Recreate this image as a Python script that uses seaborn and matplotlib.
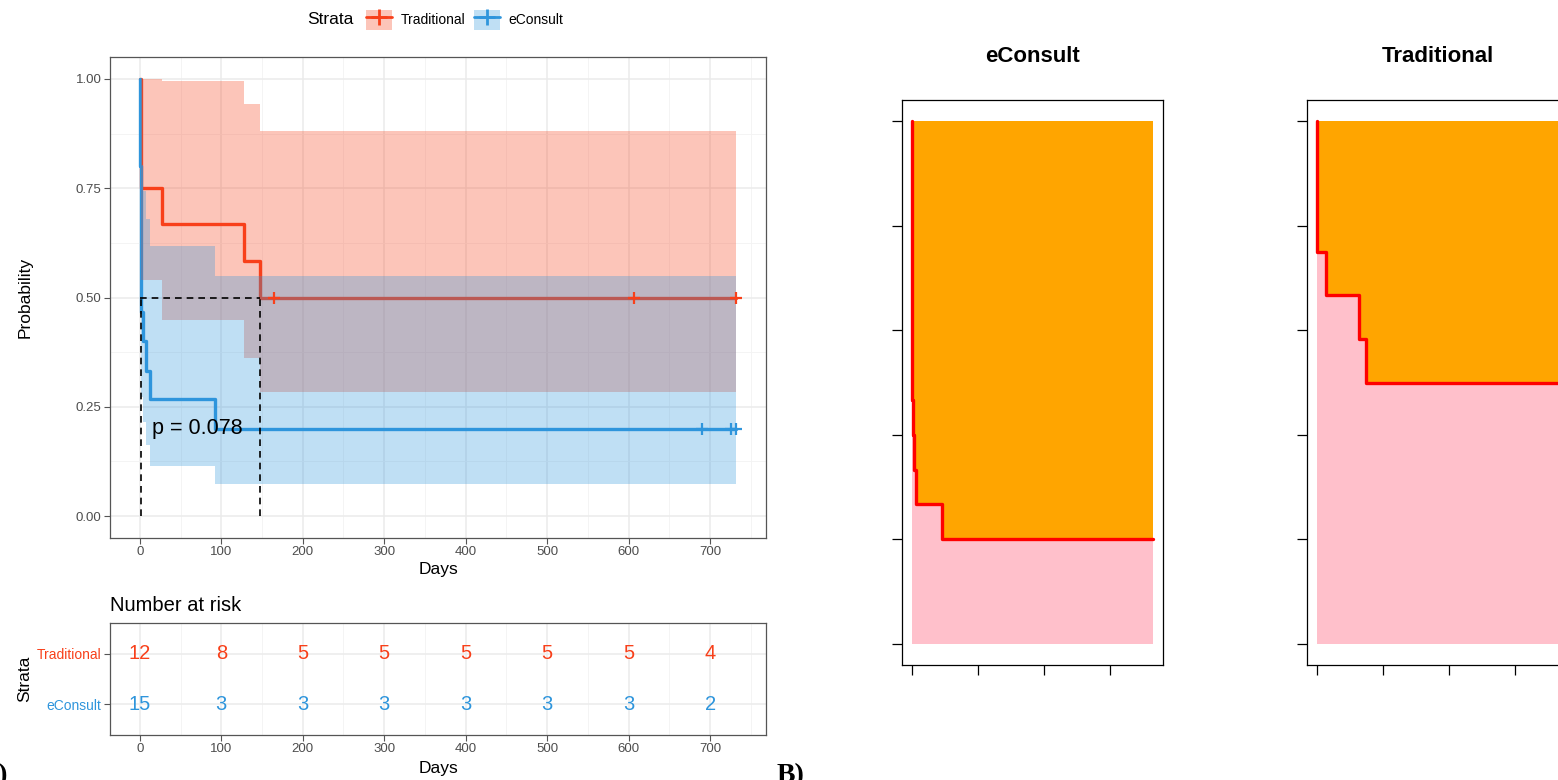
import numpy as np
import pandas as pd
import matplotlib
matplotlib.use("Agg")
import matplotlib.pyplot as plt
from matplotlib.patches import Patch
from matplotlib.lines import Line2D
from matplotlib.legend_handler import HandlerTuple
from matplotlib.ticker import MultipleLocator, FormatStrFormatter, NullFormatter
import seaborn as sns

# ---- Kaplan-Meier estimates (days, survival probability, 95% CI) ----
trad_time = [0, 1, 27, 128, 148, 732]
trad_surv = [1.0, 0.75, 0.667, 0.583, 0.5, 0.5]
trad_lower = [1.0, 0.54, 0.448, 0.362, 0.284, 0.284]
trad_upper = [1.0, 1.0, 0.995, 0.942, 0.88, 0.88]
trad_censor = [165, 606, 732]

econ_time = [0, 0.3, 1.5, 4, 7, 13, 92, 732]
econ_surv = [1.0, 0.8, 0.467, 0.4, 0.333, 0.267, 0.2, 0.2]
econ_lower = [1.0, 0.62, 0.272, 0.215, 0.163, 0.115, 0.073, 0.073]
econ_upper = [1.0, 1.0, 0.80, 0.744, 0.68, 0.617, 0.55, 0.55]
econ_censor = [690, 726, 732]

median_trad = 148
median_econ = 1.5
p_label = "p = 0.078"

# ---- number at risk ----
risk_days = [0, 100, 200, 300, 400, 500, 600, 700]
risk_trad = [12, 8, 5, 5, 5, 5, 5, 4]
risk_econ = [15, 3, 3, 3, 3, 3, 3, 2]

groups = ["Traditional", "eConsult"]

RED = "#F8401A"
BLUE = "#2E95DC"
FONT = ["Liberation Sans", "DejaVu Sans"]

sns.set_theme(style="white")
plt.rcParams["font.family"] = FONT
plt.rcParams["text.color"] = "black"
plt.rcParams["axes.labelcolor"] = "black"

W, H = 1558, 780
fig = plt.figure(figsize=(W / 100, H / 100), dpi=100)


def px_axes(x0, y0, x1, y1):
    """Axes from a pixel box measured from the top-left corner."""
    return fig.add_axes([x0 / W, 1 - y1 / H, (x1 - x0) / W, (y1 - y0) / H])


def surv_at(t, times, surv):
    i = np.searchsorted(times, t, side="right") - 1
    return surv[i]


def gg_panel(ax):
    ax.set_facecolor("white")
    for s in ax.spines.values():
        s.set_visible(True)
        s.set_color("#555555")
        s.set_linewidth(0.9)
    ax.tick_params(which="major", length=4, width=0.8, color="#555555",
                   labelcolor="#4D4D4D", labelsize=9.5, pad=2,
                   bottom=True, left=True)
    ax.tick_params(which="minor", length=0)
    ax.set_axisbelow(True)
    ax.grid(which="major", color="#EBEBEB", lw=1.1)
    ax.grid(which="minor", color="#F3F3F3", lw=0.6)


XLIM = (-36.6, 768.6)

# ================= survival curves =================
ax = px_axes(110, 57, 766, 538)
gg_panel(ax)

df_trad = pd.DataFrame({"Days": trad_time, "Probability": trad_surv})
df_econ = pd.DataFrame({"Days": econ_time, "Probability": econ_surv})
sns.lineplot(data=df_trad, x="Days", y="Probability", drawstyle="steps-post",
             estimator=None, color=RED, lw=2.4, ax=ax, zorder=2)
sns.lineplot(data=df_econ, x="Days", y="Probability", drawstyle="steps-post",
             estimator=None, color=BLUE, lw=2.4, ax=ax, zorder=2)

ax.fill_between(trad_time, trad_lower, trad_upper, step="post",
                color=RED, alpha=0.3, lw=0, zorder=3)
ax.fill_between(econ_time, econ_lower, econ_upper, step="post",
                color=BLUE, alpha=0.3, lw=0, zorder=3.1)

ax.plot(trad_censor, [surv_at(t, trad_time, trad_surv) for t in trad_censor],
        ls="none", marker="+", ms=9, mew=1.6, color=RED, zorder=4)
ax.plot(econ_censor, [surv_at(t, econ_time, econ_surv) for t in econ_censor],
        ls="none", marker="+", ms=9, mew=1.6, color=BLUE, zorder=4)

# median survival guides
dash = dict(color="black", lw=1.2, ls=(0, (4, 3)), zorder=5)
ax.plot([0, median_trad], [0.5, 0.5], **dash)
ax.plot([median_econ, median_econ], [0, 0.5], **dash)
ax.plot([median_trad, median_trad], [0, 0.5], **dash)

ax.text(15, 0.2, p_label, fontsize=15.5, ha="left", va="center", zorder=6)

ax.set_xlim(*XLIM)
ax.set_ylim(-0.05, 1.05)
ax.xaxis.set_major_locator(MultipleLocator(100))
ax.xaxis.set_minor_locator(MultipleLocator(50))
ax.yaxis.set_major_locator(MultipleLocator(0.25))
ax.yaxis.set_minor_locator(MultipleLocator(0.125))
ax.yaxis.set_major_formatter(FormatStrFormatter("%.2f"))
ax.set_xlabel("Days", fontsize=12.5)
ax.set_ylabel("Probability", fontsize=12.5)
ax.xaxis.set_label_coords(0.5, -0.05)
ax.xaxis.label.set_va("top")
ax.yaxis.set_label_coords(-0.118, 0.5)

# legend across the top
fig.text(307 / W, 1 - 20 / H, "Strata", fontsize=12.5, ha="left", va="center")
handles = [
    (Patch(facecolor=RED, alpha=0.3, edgecolor="none"),
     Line2D([], [], color=RED, lw=2, marker="+", ms=11, mew=2)),
    (Patch(facecolor=BLUE, alpha=0.3, edgecolor="none"),
     Line2D([], [], color=BLUE, lw=2, marker="+", ms=11, mew=2)),
]
fig.legend(handles, groups, handler_map={tuple: HandlerTuple(ndivide=1, pad=0)},
           loc="center left", bbox_to_anchor=(366 / W, 1 - 20 / H), ncol=2,
           frameon=False, fontsize=10, handlelength=1.9, handleheight=1.9,
           handletextpad=0.6, columnspacing=0.6, borderpad=0, borderaxespad=0,
           numpoints=1)

# ================= number at risk table =================
rt = px_axes(110, 623, 766, 735)
gg_panel(rt)
for d, a, b in zip(risk_days, risk_trad, risk_econ):
    rt.text(d, 2, str(a), color=RED, fontsize=14.5, ha="center", va="center")
    rt.text(d, 1, str(b), color=BLUE, fontsize=14.5, ha="center", va="center")
rt.set_xlim(*XLIM)
rt.set_ylim(0.4, 2.6)
rt.xaxis.set_major_locator(MultipleLocator(100))
rt.xaxis.set_minor_locator(MultipleLocator(50))
rt.set_yticks([1, 2])
rt.set_yticklabels(["eConsult", "Traditional"], fontsize=10)
for lab, c in zip(rt.get_yticklabels(), [BLUE, RED]):
    lab.set_color(c)
rt.grid(which="major", axis="y", color="#EBEBEB", lw=1.1)
rt.set_xlabel("Days", fontsize=12.5)
rt.set_ylabel("Strata", fontsize=12.5)
rt.xaxis.set_label_coords(0.5, -0.232)
rt.xaxis.label.set_va("top")
rt.yaxis.set_label_coords(-0.118, 0.5)
rt.text(0, 1 + 12 / 112, "Number at risk", transform=rt.transAxes,
        fontsize=14.5, ha="left", va="baseline")

# ================= filled survival panels =================
XMAX = 732


def fill_panel(box, times, surv, title):
    a = px_axes(*box)
    a.set_facecolor("white")
    a.grid(False)
    a.fill_between(times, 0, surv, step="post", color="pink", lw=0, zorder=1)
    a.fill_between(times, surv, 1, step="post", color="orange", lw=0, zorder=1)
    df = pd.DataFrame({"t": times, "s": surv})
    sns.lineplot(data=df, x="t", y="s", drawstyle="steps-post",
                 estimator=None, color="red", lw=2.4, ax=a, zorder=2)
    a.set_xlim(-0.04 * XMAX, 1.04 * XMAX)
    a.set_ylim(-0.04, 1.04)
    a.set_xticks([0, 200, 400, 600])
    a.set_yticks([0, 0.2, 0.4, 0.6, 0.8, 1.0])
    a.xaxis.set_major_formatter(NullFormatter())
    a.yaxis.set_major_formatter(NullFormatter())
    a.tick_params(length=7, width=0.9, color="black", direction="out",
                  bottom=True, left=True)
    for s in a.spines.values():
        s.set_visible(True)
        s.set_color("black")
        s.set_linewidth(0.9)
    a.set_xlabel("")
    a.set_ylabel("")
    a.text(0.5, 1 + 38 / 565, title, transform=a.transAxes, ha="center",
           va="baseline", fontsize=16, fontweight="bold", color="black")
    return a


fill_panel((902, 100, 1163, 665), econ_time, econ_surv, "eConsult")
fill_panel((1307, 100, 1568, 665), trad_time, trad_surv, "Traditional")

# panel tags along the bottom edge
fig.text(8 / W, -2 / H, "A)", family=["Liberation Serif", "DejaVu Serif"],
         fontweight="bold", fontsize=20, ha="right", va="baseline")
fig.text(777 / W, -2 / H, "B)", family=["Liberation Serif", "DejaVu Serif"],
         fontweight="bold", fontsize=20, ha="left", va="baseline")

fig.savefig("out.png", dpi=100)
